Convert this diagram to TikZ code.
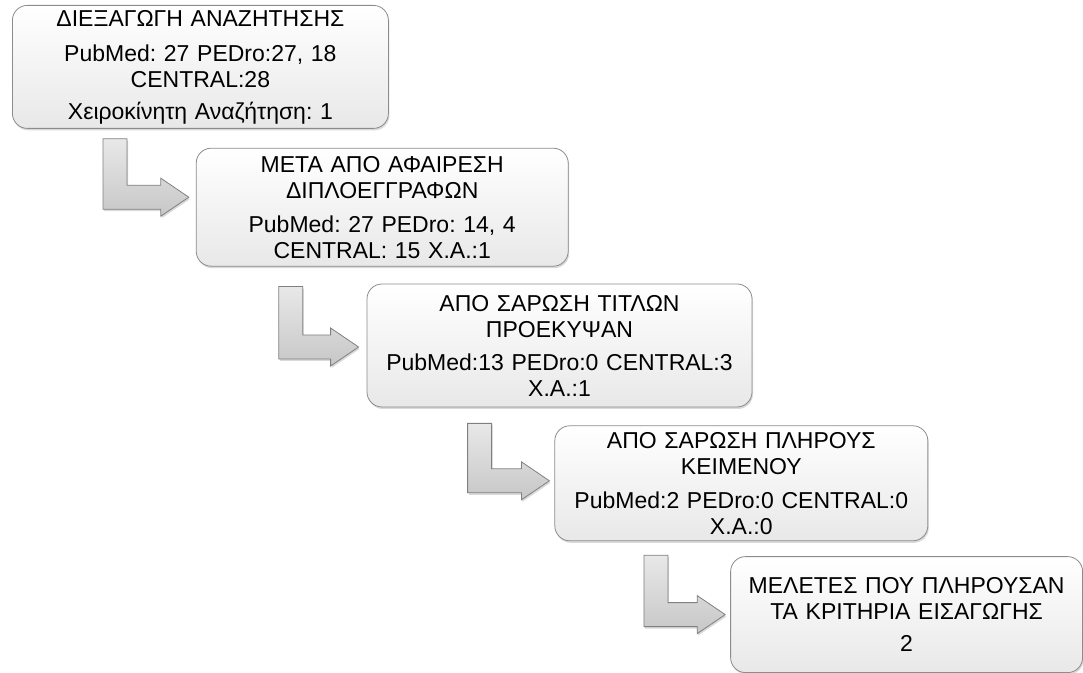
\documentclass[tikz,border=0pt]{standalone}
\usepackage{fontspec}
\setmainfont{Liberation Sans}
\usetikzlibrary{positioning, calc, shadows}
\frenchspacing

\begin{document}
\begin{tikzpicture}[
  every node/.style={font=\fontsize{23}{26}\selectfont},
  stage/.style={draw=black!45, line width=0.8pt, rounded corners=15pt,
    top color=white, bottom color=black!9, inner sep=0pt, align=center,
    drop shadow={shadow xshift=1pt, shadow yshift=-2pt, opacity=0.3}},
  larrow/.style={draw=black!50, line width=0.8pt, top color=black!9, bottom color=black!22,
    drop shadow={shadow xshift=1pt, shadow yshift=-2pt, opacity=0.3}}]
\useasboundingbox (0,0) rectangle (1083pt,672pt);

\node[stage, minimum width=376pt, minimum height=123pt, text width=366pt, anchor=north west]
  (b1) at (12pt,667pt)
  {ΔΙΕΞΑΓΩΓΗ ΑΝΑΖΗΤΗΣΗΣ\\[9pt] PubMed: 27 PEDro:27, 18\\ CENTRAL:28\\[6pt] Χειροκίνητη Αναζήτηση: 1};
\node[stage, minimum width=372pt, minimum height=118pt, text width=362pt, below right=19pt and -193pt of b1]
  (b2) {ΜΕΤΑ ΑΠΟ ΑΦΑΙΡΕΣΗ\\ ΔΙΠΛΟΕΓΓΡΑΦΩΝ\\[8pt] PubMed: 27 PEDro: 14, 4\\ CENTRAL: 15 Χ.Α.:1};
\node[stage, minimum width=385pt, minimum height=123pt, text width=375pt, below right=17pt and -202pt of b2]
  (b3) {ΑΠΟ ΣΑΡΩΣΗ ΤΙΤΛΩΝ\\ ΠΡΟΕΚΥΨΑΝ\\[7pt] PubMed:13 PEDro:0 CENTRAL:3\\ Χ.Α.:1};
\node[stage, minimum width=373pt, minimum height=115pt, text width=363pt, below right=18pt and -198pt of b3]
  (b4) {ΑΠΟ ΣΑΡΩΣΗ ΠΛΗΡΟΥΣ\\ ΚΕΙΜΕΝΟΥ\\[8pt] PubMed:2 PEDro:0 CENTRAL:0\\ Χ.Α.:0};
\node[stage, minimum width=352pt, minimum height=116pt, text width=342pt, below right=15pt and -198pt of b4]
  (b5) {ΜΕΛΕΤΕΣ ΠΟΥ ΠΛΗΡΟΥΣΑΝ\\ ΤΑ ΚΡΙΤΗΡΙΑ ΕΙΣΑΓΩΓΗΣ\\[6pt] 2};

% bent arrows: from under one box to the left side of the next
\foreach \a/\b/\dx/\dy/\tx/\ty in {b1/b2/103/10/7/10, b2/b3/95/20/8/-1.5, b3/b4/113/16/5/2.5, b4/b5/101.5/14/5/0}
  \draw[larrow] let \p1=($(\a.south west)+(\dx pt,-\dy pt)$), \p2=($(\b.west)+(-\tx pt,\ty pt)$) in
    (\x1-12pt,\y1) -- (\x1+12pt,\y1) -- (\x1+12pt,\y2+12pt) -- (\x2-28pt,\y2+12pt)
    -- (\x2-28pt,\y2+19pt) -- (\x2,\y2) -- (\x2-28pt,\y2-19pt) -- (\x2-28pt,\y2-12pt)
    -- (\x1-12pt,\y2-12pt) -- cycle;
\end{tikzpicture}
\end{document}
